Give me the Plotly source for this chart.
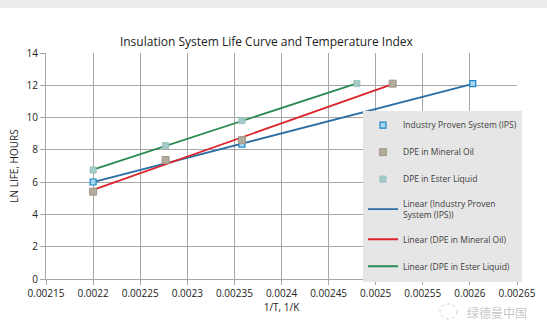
import numpy as np
import plotly.graph_objects as go

# Data
ips_x = [0.0022, 0.002358, 0.002603]
ips_y = [6.01, 8.36, 12.1]
mo_x = [0.0022, 0.002277, 0.002358, 0.002518]
mo_y = [5.41, 7.37, 8.6, 12.1]
es_x = [0.0022, 0.002277, 0.002358, 0.00248]
es_y = [6.75, 8.26, 9.81, 12.1]

x_ticks = [0.00215, 0.0022, 0.00225, 0.0023, 0.00235, 0.0024, 0.00245,
           0.0025, 0.00255, 0.0026, 0.00265]
x_tick_labels = ["0.00215", "0.0022", "0.00225", "0.0023", "0.00235", "0.0024",
                 "0.00245", "0.0025", "0.00255", "0.0026", "0.00265"]
y_ticks = [0, 2, 4, 6, 8, 10, 12, 14]

BLUE = "#2b6ea6"
RED = "#d9252b"
GREEN = "#2a8a4f"


def fit(xs, ys):
    xs = np.array(xs)
    m, b = np.polyfit(xs, np.array(ys), 1)
    xx = np.array([xs.min(), xs.max()])
    return xx, m * xx + b


fig = go.Figure()

for xs, ys, col, nm, g in [
    (ips_x, ips_y, BLUE, "Linear (Industry Proven<br>System (IPS))", "d"),
    (mo_x, mo_y, RED, "Linear (DPE in Mineral Oil)", "e"),
    (es_x, es_y, GREEN, "Linear (DPE in Ester Liquid)", "f"),
]:
    fx, fy = fit(xs, ys)
    fig.add_trace(go.Scatter(x=fx, y=fy, mode="lines", name=nm, legendgroup=g,
                             line=dict(color=col, width=1.8)))

fig.add_trace(go.Scatter(x=ips_x, y=ips_y, mode="markers", name="Industry Proven System (IPS)",
                         legendgroup="a",
                         marker=dict(symbol="square", size=6, color="#a8d8f0",
                                     line=dict(color="#1d87c4", width=1.2))))
fig.add_trace(go.Scatter(x=mo_x, y=mo_y, mode="markers", name="DPE in Mineral Oil",
                         legendgroup="b",
                         marker=dict(symbol="square", size=7, color="#b3ab9c",
                                     line=dict(color="#a0978a", width=1))))
fig.add_trace(go.Scatter(x=es_x, y=es_y, mode="markers", name="DPE in Ester Liquid",
                         legendgroup="c",
                         marker=dict(symbol="square", size=6, color="#a3cbc8",
                                     line=dict(color="#96c2be", width=1))))

fig.update_layout(
    width=547, height=330,
    margin=dict(l=46, r=30, t=53, b=51),
    paper_bgcolor="white", plot_bgcolor="white",
    font=dict(family="Open Sans, Lato, sans-serif", size=10, color="#333333"),
    title=dict(text="Insulation System Life Curve and Temperature Index",
               x=0.487, xanchor="center", y=0.873, yanchor="middle",
               font=dict(size=12, color="#222222")),
    showlegend=True,
    legend=dict(x=0.673, y=0.745, xanchor="left", yanchor="top",
                bgcolor="#e6e6e6", borderwidth=0,
                font=dict(size=8.5, color="#404040"),
                tracegroupgap=8, traceorder="grouped",
                itemwidth=30),
    xaxis=dict(range=[0.00215, 0.00265], tickvals=x_ticks, ticktext=x_tick_labels,
               showgrid=True, gridcolor="#a6a6a6", gridwidth=1,
               showline=True, linecolor="#a6a6a6", ticks="outside",
               ticklen=5, tickcolor="#a6a6a6", zeroline=False,
               tickfont=dict(size=10, color="#222222"),
               title=dict(text="1/T, 1/K", font=dict(size=10, color="#222222"), standoff=4)),
    yaxis=dict(range=[0, 14], tickvals=y_ticks,
               showgrid=True, gridcolor="#a6a6a6", gridwidth=1,
               showline=True, linecolor="#a6a6a6", ticks="outside",
               ticklen=5, tickcolor="#a6a6a6", zeroline=False,
               tickfont=dict(size=10, color="#222222"),
               title=dict(text="LN LIFE, HOURS", font=dict(size=10, color="#222222"), standoff=6)),
)

# legend order: markers first, then lines
order = {"a": 0, "b": 1, "c": 2, "d": 3, "e": 4, "f": 5}
for tr in fig.data:
    tr.legendrank = order[tr.legendgroup]

# top grey band (screenshot frame)
fig.add_shape(type="rect", xref="paper", yref="paper", x0=-0.2, x1=1.2,
              y0=(279 - 8) / 226, y1=(279 + 10) / 226,
              fillcolor="#ececec", line=dict(width=0), layer="below")

# watermark icon + text
fig.add_shape(type="circle", xref="paper", yref="paper",
              x0=(440 - 46) / 471, x1=(457 - 46) / 471,
              y0=(279 - 319) / 226, y1=(279 - 304) / 226,
              line=dict(color="#cfcfcf", width=1, dash="dot"))
fig.add_annotation(text="绿德曼中国", xref="paper", yref="paper",
                   x=(497 - 46) / 471, y=(279 - 312) / 226, xanchor="center", yanchor="middle",
                   showarrow=False,
                   font=dict(family="Noto Sans CJK SC", size=12, color="#c8c8c8"))

fig.write_html("out.html")
